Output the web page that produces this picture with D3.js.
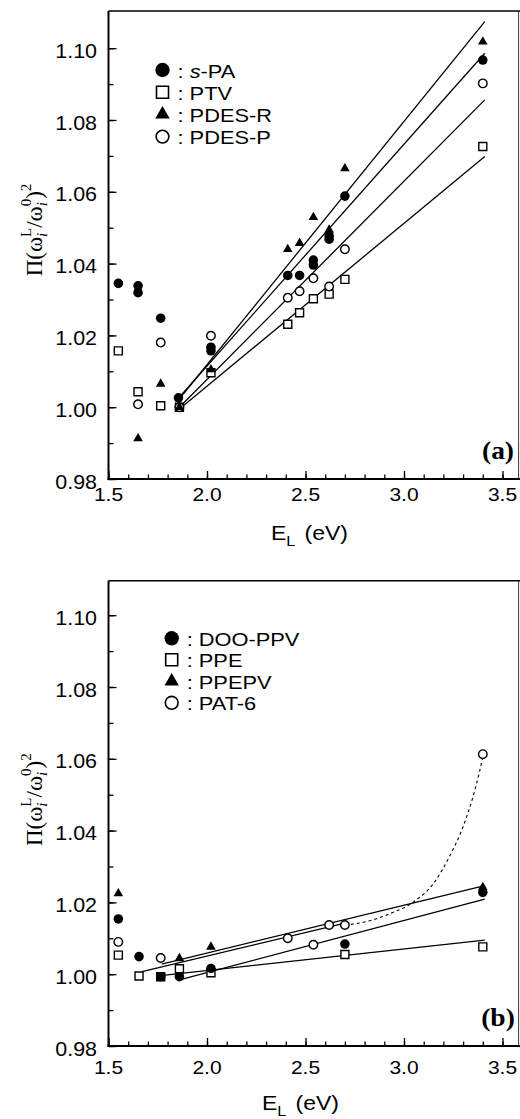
<!DOCTYPE html>
<html>
<head>
<meta charset="utf-8">
<script src="https://cdn.jsdelivr.net/npm/d3@7"></script>
<style>
body { margin: 0; background: #fff; }
svg { display: block; }
</style>
</head>
<body>
<svg id="chart" width="520" height="1119"></svg>
<script>
// values: [E_L (eV), ratio]
// panel (a)
var sPA = [[1.55,1.0345],[1.65,1.0338],[1.65,1.0319],[1.765,1.0248],[1.855,1.0026],[2.02,1.0167],[2.02,1.0157],
	[2.41,1.0367],[2.47,1.0367],[2.54,1.041],[2.54,1.0396],[2.62,1.0477],[2.62,1.0468],[2.70,1.0588],[3.40,1.0967]];
var ptv = [[1.55,1.0157],[1.65,1.0043],[1.765,1.0004],[1.86,1.0],[2.02,1.0096],[2.41,1.0231],[2.47,1.0263],
	[2.54,1.0302],[2.62,1.0315],[2.70,1.0356],[3.40,1.0726]];
var pdesR = [[1.65,0.9913],[1.765,1.0065],[1.86,1.0],[2.02,1.0105],[2.41,1.044],[2.47,1.0457],[2.54,1.0529],
	[2.62,1.0494],[2.70,1.0665],[3.40,1.1018]];
var pdesP = [[1.65,1.0008],[1.765,1.018],[1.86,1.0],[2.02,1.0199],[2.41,1.0305],[2.47,1.0323],[2.54,1.0359],
	[2.62,1.0336],[2.70,1.044],[3.40,1.0902]];
var fitSPA = [[1.855,1.0025],[3.41,1.0986]];
var fitPTV = [[1.86,0.9995],[3.41,1.0698]];
var fitPdesR = [[1.855,1.002],[3.41,1.1074]];
var fitPdesP = [[1.86,1.0],[3.41,1.0856]];
var namesA = ["s-PA", "PTV", "PDES-R", "PDES-P"];

// panel (b)
var dooPPV = [[1.55,1.0154],[1.655,1.0049],[1.765,0.9993],[1.86,0.9993],[2.02,1.0016],[2.70,1.0084],[3.40,1.0228]];
var ppe = [[1.55,1.0053],[1.655,0.9995],[1.765,0.9993],[1.86,1.0015],[2.02,1.0004],[2.70,1.0055],[3.40,1.0076]];
var ppepv = [[1.55,1.0225],[1.86,1.0044],[2.02,1.0076],[3.40,1.0242]];
var pat6 = [[1.55,1.009],[1.765,1.0045],[2.41,1.01],[2.54,1.0082],[2.62,1.0137],[2.70,1.0137],[3.40,1.0613]];
var fitDoo = [[1.865,0.9985],[3.41,1.0209]];
var fitPPE = [[1.765,0.9996],[3.41,1.0095]];
var fitPPEPV = [[1.77,1.0028],[3.41,1.0247]];
var fitPat6 = [[1.67,1.0007],[2.70,1.0142]];
var curvePat6 = [[2.70,1.0137],[2.78,1.0143],[2.93,1.0169],[3.05,1.0202],[3.15,1.0253],[3.23,1.0327],
	[3.30,1.0411],[3.35,1.0494],[3.385,1.0568],[3.40,1.0605]];
var namesB = ["DOO-PPV", "PPE", "PPEPV", "PAT-6"];

var xLabels = [1.5, 2.0, 2.5, 3.0, 3.5];
var yLabels = [0.98, 1.00, 1.02, 1.04, 1.06, 1.08, 1.10];

var svg = d3.select("#chart");
var x = d3.scaleLinear().domain([1.5, 3.5]).range([108.5, 502.5]);
var sans = "'Liberation Sans', Arial, Helvetica, sans-serif";
var serif = "'Liberation Serif', 'Times New Roman', serif";

function wide(sel, px, py, sx) {
	return sel.attr("transform", "translate(" + px + "," + py + ") scale(" + sx + ",1)");
}

// marker kinds: 0 filled circle, 1 open square, 2 filled triangle, 3 open circle
function marker(g, kind, px, py, big) {
	var k = big ? 1.5 : 1;
	var sym = [d3.symbolCircle, d3.symbolSquare, d3.symbolTriangle, d3.symbolCircle][kind];
	var size = [72, 64, 40, 57][kind] * k * k;
	var open = kind == 1 || kind == 3;
	g.append("path")
		.attr("d", d3.symbol().type(sym).size(size)())
		.attr("transform", "translate(" + px + "," + py + ")")
		.attr("fill", open ? "#fff" : "#000")
		.attr("stroke", open ? "#000" : "none")
		.attr("stroke-width", big ? 1.6 : 1.4);
}

function drawPanel(p) {
	var y = d3.scaleLinear().domain([0.98, 1.10]).range([p.bottom, p.bottom - 0.12 * 3590]);
	var g = svg.append("g");

	// ticks pointing inwards
	var minor = g.append("g").attr("transform", "translate(0," + p.bottom + ")")
		.call(d3.axisBottom(x).tickValues(d3.range(15, 36).map(function (d) { return d / 10; })).tickSize(-4.5).tickFormat(""));
	var major = g.append("g").attr("transform", "translate(0," + p.bottom + ")")
		.call(d3.axisBottom(x).tickValues(xLabels).tickSize(-8).tickFormat(""));
	var minorY = g.append("g").attr("transform", "translate(108.5,0)")
		.call(d3.axisLeft(y).tickValues(d3.range(98, 111).map(function (d) { return d / 100; })).tickSize(-5).tickFormat(""));
	var majorY = g.append("g").attr("transform", "translate(108.5,0)")
		.call(d3.axisLeft(y).tickValues(yLabels).tickSize(-8).tickFormat(""));
	[minor, major, minorY, majorY].forEach(function (a) {
		a.select(".domain").remove();
		a.selectAll("line").attr("stroke-width", 1.3);
	});

	// frame
	g.append("line").attr("x1", 108.5).attr("x2", 520).attr("y1", p.top).attr("y2", p.top)
		.attr("stroke", "#000").attr("stroke-width", 1.4);
	g.append("line").attr("x1", 518.6).attr("x2", 518.6).attr("y1", p.top).attr("y2", p.bottom)
		.attr("stroke", "#000").attr("stroke-width", 0.8);
	g.append("line").attr("x1", 108.5).attr("x2", 108.5).attr("y1", p.top).attr("y2", p.bottom + 1)
		.attr("stroke", "#000").attr("stroke-width", 2);
	g.append("line").attr("x1", 107.5).attr("x2", 520).attr("y1", p.bottom).attr("y2", p.bottom)
		.attr("stroke", "#000").attr("stroke-width", 1.8);

	// tick labels
	xLabels.forEach(function (v) {
		wide(g.append("text"), x(v), p.bottom + p.xLabelDy, 1.2)
			.attr("text-anchor", "middle").attr("font-family", sans).attr("font-size", 17.5)
			.text(d3.format(".1f")(v));
	});
	yLabels.forEach(function (v) {
		wide(g.append("text"), 97, y(v) + 9.5, 1.1)
			.attr("text-anchor", "end").attr("font-family", sans).attr("font-size", 19.5)
			.text(d3.format(".2f")(v));
	});

	// axis titles
	var xt = wide(g.append("text"), p.xTitleX, p.bottom + p.xTitleDy, 1.15)
		.attr("font-family", sans).attr("font-size", 20);
	xt.append("tspan").text("E");
	xt.append("tspan").attr("font-size", 14).attr("dy", 6).text("L");
	xt.append("tspan").attr("dy", -6).attr("dx", 8).text("(eV)");

	var yt = g.append("text")
		.attr("transform", "translate(42," + (p.top + 219) + ") rotate(-90)")
		.attr("text-anchor", "middle").attr("font-family", serif).attr("font-size", 23);
	yt.append("tspan").text("\u03a0(\u03c9");
	yt.append("tspan").attr("font-size", 15).attr("font-style", "italic").attr("dy", 5).text("i");
	yt.append("tspan").attr("font-size", 15).attr("dx", -4.2).attr("dy", -16).text("L");
	yt.append("tspan").attr("dy", 11).text("/\u03c9");
	yt.append("tspan").attr("font-size", 15).attr("font-style", "italic").attr("dy", 5).text("i");
	yt.append("tspan").attr("font-size", 15).attr("dx", -4.2).attr("dy", -16).text("0");
	yt.append("tspan").attr("dy", 11).text(")");
	yt.append("tspan").attr("font-size", 15).attr("dy", -11).text("2");

	// panel letter
	wide(g.append("text"), 498, p.bottom + p.letterDy, 1.1)
		.attr("text-anchor", "middle").attr("font-family", serif).attr("font-weight", "bold")
		.attr("font-size", 25).text(p.letter);

	// fitted lines
	var line = d3.line().x(function (d) { return x(d[0]); }).y(function (d) { return y(d[1]); });
	p.fits.forEach(function (f) {
		g.append("path").attr("d", line(f)).attr("fill", "none")
			.attr("stroke", "#000").attr("stroke-width", 1.3);
	});
	if (p.dashed) {
		g.append("path").attr("d", line.curve(d3.curveMonotoneX)(p.dashed)).attr("fill", "none")
			.attr("stroke", "#000").attr("stroke-width", 1.1).attr("stroke-dasharray", "3,3");
	}

	// data points: open ones first, filled on top
	[1, 3, 2, 0].forEach(function (kind) {
		p.series[kind].forEach(function (d) { marker(g, kind, x(d[0]), y(d[1]), false); });
	});

	// legend
	p.names.forEach(function (name, i) {
		var ly = p.legendY + i * p.legendDy;
		marker(g, i, p.legendX, ly, true);
		var t = wide(g.append("text"), p.legendX + 15, ly + 7.5, 1.18)
			.attr("font-family", sans).attr("font-size", 18.5);
		if (name.indexOf("s-") == 0) {
			t.append("tspan").text(": ");
			t.append("tspan").attr("font-style", "italic").text("s");
			t.append("tspan").text(name.slice(1));
		} else {
			t.text(": " + name);
		}
	});
}

drawPanel({
	top: 11, bottom: 479, letter: "(a)", letterDy: -20,
	xLabelDy: 21.5, xTitleX: 271, xTitleDy: 61,
	series: [sPA, ptv, pdesR, pdesP],
	fits: [fitSPA, fitPTV, fitPdesR, fitPdesP],
	names: namesA, legendX: 162.5, legendY: 70, legendDy: 22.2
});

drawPanel({
	top: 580.7, bottom: 1046, letter: "(b)", letterDy: -20,
	xLabelDy: 27.5, xTitleX: 262, xTitleDy: 64,
	series: [dooPPV, ppe, ppepv, pat6],
	fits: [fitDoo, fitPPE, fitPPEPV, fitPat6],
	dashed: curvePat6,
	names: namesB, legendX: 171.7, legendY: 638.3, legendDy: 21.5
});
</script>
</body>
</html>
